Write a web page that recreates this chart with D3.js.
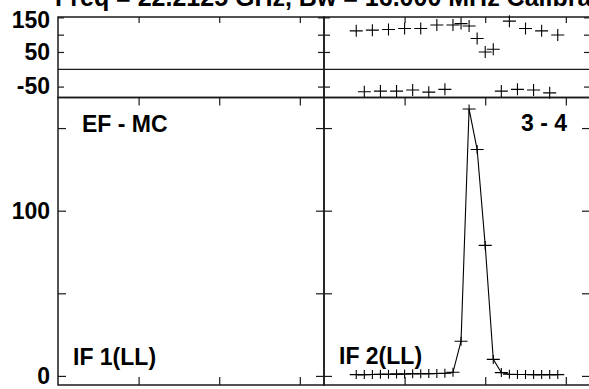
<!DOCTYPE html>
<html>
<head>
<meta charset="utf-8">
<script src="https://cdn.jsdelivr.net/npm/d3@7/dist/d3.min.js"></script>
<style>
  html, body { margin: 0; padding: 0; background: #fff; }
  svg { display: block; }
  text { font-family: "Liberation Sans", Arial, Helvetica, sans-serif; font-weight: bold; fill: #000; }
</style>
</head>
<body>
<svg id="chart" width="589" height="389"></svg>
<script>
// ---- data ----
const titleText = "Freq = 22.2125 GHz, Bw = 16.000 MHz  Calibrate";
const baselineLabel = "EF - MC";
const pairLabel = "3 - 4";
const ifLabels = ["IF 1(LL)", "IF 2(LL)"];

const channels = [4, 5, 6, 7, 8, 9, 10, 11, 12, 13, 14, 15, 16, 17, 18, 19, 20, 21, 22, 23, 24, 25, 26, 27, 28, 29];
// IF 1 has no plotted data
const phaseIF1 = [];
const ampIF1 = [];
const phaseIF2 = [111, -65, 113, -63, 115, -63, 118, -60, 118, -66, 128, -58, 128, 132, 125, 89, 50, 58, -63, 139, -58, 118, -60, 111, -68, 99];
const ampIF2 = [0.8, 0.8, 0.9, 1.0, 1.0, 1.1, 1.2, 1.3, 1.3, 1.4, 1.5, 1.6, 2.2, 21, 161.5, 137, 79, 10, 2, 1.0, 0.9, 0.9, 0.8, 0.8, 0.8, 0.8];

const xTicks = [10, 20, 30];
const phaseTicks = [-50, 50, 100, 150];
const phaseTickLabels = [150, 50, -50];
const ampTicks = [0, 50, 100, 150];
const ampTickLabels = [0, 100];

// ---- layout ----
const svg = d3.select("#chart");
const panelX = [[58, 324], [324, 590]];
const phaseY = [17, 97.5];
const ampY = [97.5, 385];

const xScales = panelX.map(r => d3.scaleLinear().domain([0, 33]).range(r));
const yPhase = d3.scaleLinear().domain([-81.5, 151]).range([phaseY[1], phaseY[0]]);
const yAmp = d3.scaleLinear().domain([-5.5, 168.5]).range([ampY[1], ampY[0]]);

const stroke = "#1a1a1a";

function panel(xs, ys, yTicks, yLabels, showLabels, yTickLen, topTicks, bottomTicks) {
  const [x0, x1] = xs.range();
  const [yb, yt] = ys.range();
  const g = svg.append("g");
  const left = g.append("g").attr("transform", `translate(${x0},0)`)
    .call(d3.axisLeft(ys).tickValues(yTicks).tickSize(-yTickLen).tickPadding(8)
      .tickFormat(d => (showLabels && yLabels.includes(d)) ? String(d) : ""));
  const right = g.append("g").attr("transform", `translate(${x1},0)`)
    .call(d3.axisRight(ys).tickValues(yTicks).tickSize(-yTickLen).tickFormat(""));
  const top = g.append("g").attr("transform", `translate(0,${yt})`)
    .call(d3.axisTop(xs).tickValues(xTicks).tickSize(-topTicks).tickFormat(""));
  const bot = g.append("g").attr("transform", `translate(0,${yb})`)
    .call(d3.axisBottom(xs).tickValues(xTicks).tickSize(-bottomTicks).tickFormat(""));
  [left, right, top, bot].forEach(a => {
    a.select(".domain").remove();
    a.selectAll(".tick line").attr("stroke", stroke).attr("stroke-width", 1.2);
    a.selectAll(".tick text").attr("font-size", 23)
      .style("font-family", "'Liberation Sans', Arial, sans-serif").style("font-weight", "bold").attr("fill", "#000");
  });
  // keep the top label inside the frame like the reference
  left.selectAll(".tick text").filter(d => d === ys.domain()[1] || d === 150).attr("dy", "0.45em");
  g.append("rect").attr("x", x0).attr("y", yt).attr("width", x1 - x0).attr("height", yb - yt)
    .attr("fill", "none").attr("stroke", stroke).attr("stroke-width", 1.5);
  return g;
}

// phase panels
panelX.forEach((_, i) => {
  panel(xScales[i], yPhase, phaseTicks, phaseTickLabels, i === 0, 6, 6, 0);
  svg.append("line").attr("x1", panelX[i][0]).attr("x2", panelX[i][1])
    .attr("y1", yPhase(0)).attr("y2", yPhase(0)).attr("stroke", stroke).attr("stroke-width", 1.3);
});
// amplitude panels
panelX.forEach((_, i) => {
  panel(xScales[i], yAmp, ampTicks, ampTickLabels, i === 0, 8, 8, 8);
});

// markers
function crosses(xs, ys, xsData, ysData, hw, hh) {
  svg.append("g").selectAll("path").data(xsData.map((c, k) => [c, ysData[k]]))
    .join("path")
    .attr("d", d => {
      const px = xs(d[0]), py = ys(d[1]);
      return `M${px - hw},${py}H${px + hw}M${px},${py - hh}V${py + hh}`;
    })
    .attr("stroke", "#000").attr("stroke-width", 1.1).attr("fill", "none");
}

// IF 2 amplitude line
const line = d3.line().x(d => xScales[1](d[0])).y(d => yAmp(d[1]));
svg.append("path").datum(channels.map((c, k) => [c, ampIF2[k]]))
  .attr("d", line).attr("fill", "none").attr("stroke", "#000").attr("stroke-width", 1.1);

crosses(xScales[1], yPhase, channels, phaseIF2, 6.5, 6);
crosses(xScales[1], yAmp, channels, ampIF2, 6.5, 4.5);

// labels
svg.append("text").attr("x", 82).attr("y", 132).attr("font-size", 23).text(baselineLabel);
svg.append("text").attr("x", 567).attr("y", 131).attr("font-size", 23).attr("text-anchor", "end").text(pairLabel);
svg.append("text").attr("x", 73).attr("y", 365).attr("font-size", 23).text(ifLabels[0]);
svg.append("text").attr("x", 339).attr("y", 364).attr("font-size", 23).text(ifLabels[1]);

// title (clipped at top, as in the reference)
svg.append("text").attr("x", 55).attr("y", 5.5).attr("font-size", 25).text(titleText);
</script>
</body>
</html>
